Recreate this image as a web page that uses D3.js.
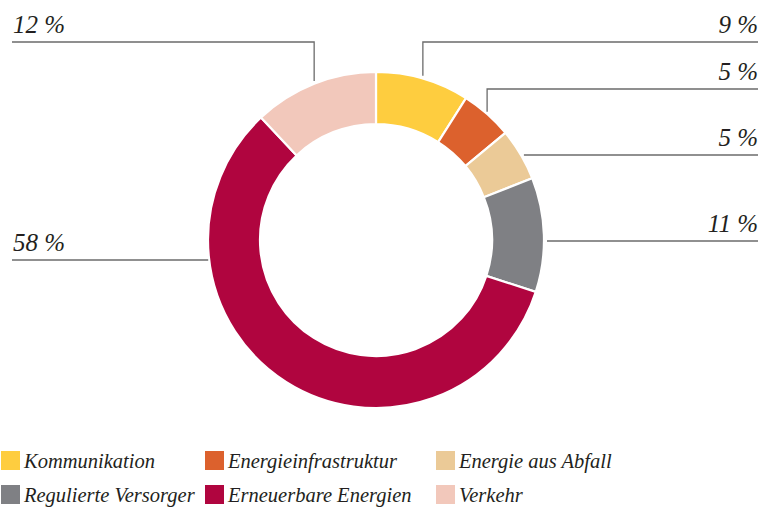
<!DOCTYPE html>
<meta charset="utf-8">
<head>
<style>
body { margin: 0; background: #fff; }
.leader { fill: none; stroke: #6b6b6b; stroke-width: 1.3px; }
</style>
</head>
<body>
<svg width="774" height="510"></svg>
<script src="https://cdn.jsdelivr.net/npm/d3@7"></script>
<script>
// data
var categories = ["Kommunikation", "Energieinfrastruktur", "Energie aus Abfall",
                  "Regulierte Versorger", "Erneuerbare Energien", "Verkehr"];
var values = [9, 5, 5, 11, 58, 12];
var labels = ["9 %", "5 %", "5 %", "11 %", "58 %", "12 %"];
var colors = ["#fecd3f", "#dc612d", "#ebca97", "#7f8084", "#b0053f", "#f2c8bb"];

// label layout: side, y of the leader line, elbow (vertical from slice middle) or straight
var labelSide = ["right", "right", "right", "right", "left", "left"];
var labelLineY = [42, 89, 155, 241, 260, 42];
var labelElbow = [true, true, false, false, false, true];

var font = "'Liberation Serif', 'Times New Roman', serif";

var svg = d3.select("svg"),
    cx = 376, cy = 240,
    outerR = 168, innerR = 116,
    leftX = 12, rightX = 758, gap = 3;

var g = svg.append("g").attr("transform", "translate(" + cx + "," + cy + ")");

var pie = d3.pie().sort(null).value(function(d) { return d; });
var arcs = pie(values);
var arc = d3.arc().innerRadius(innerR).outerRadius(outerR);

g.selectAll("path.slice")
    .data(arcs)
  .enter().append("path")
    .attr("class", "slice")
    .attr("d", arc)
    .attr("fill", function(d, i) { return colors[i]; })
    .attr("stroke", "#fff")
    .attr("stroke-width", 2.2);

// leaders
arcs.forEach(function(a, i) {
  var right = labelSide[i] === "right",
      ly = labelLineY[i] - cy,
      endX = (right ? rightX : leftX) - cx,
      pts;
  if (labelElbow[i]) {
    var mid = (a.startAngle + a.endAngle) / 2,
        px = outerR * Math.sin(mid),
        py = -(outerR + gap) * Math.cos(mid);
    pts = [[px, py], [px, ly], [endX, ly]];
  } else {
    var dx = Math.sqrt(outerR * outerR - ly * ly) + gap;
    pts = [[right ? dx : -dx + gap - 1, ly], [endX, ly]];
  }
  g.append("path").attr("class", "leader").attr("d", d3.line()(pts));
  g.append("text")
      .attr("x", right ? endX : endX + 1)
      .attr("y", ly - 9)
      .attr("text-anchor", right ? "end" : "start")
      .style("font-family", font)
      .style("font-style", "italic")
      .style("font-size", "25px")
      .style("fill", "#231f20")
      .text(labels[i]);
});

// legend
var legendCols = [1, 205, 436], legendRows = [451, 485];
var legend = svg.selectAll("g.legend")
    .data(categories)
  .enter().append("g")
    .attr("class", "legend")
    .attr("transform", function(d, i) {
      return "translate(" + legendCols[i % 3] + "," + legendRows[Math.floor(i / 3)] + ")";
    });
legend.append("rect")
    .attr("width", 19).attr("height", 19)
    .attr("fill", function(d, i) { return colors[i]; });
legend.append("text")
    .attr("x", 23).attr("y", 17)
    .style("font-family", font)
    .style("font-style", "italic")
    .style("font-size", "20.5px")
    .style("fill", "#231f20")
    .text(function(d) { return d; });
</script>
</body>
</html>
